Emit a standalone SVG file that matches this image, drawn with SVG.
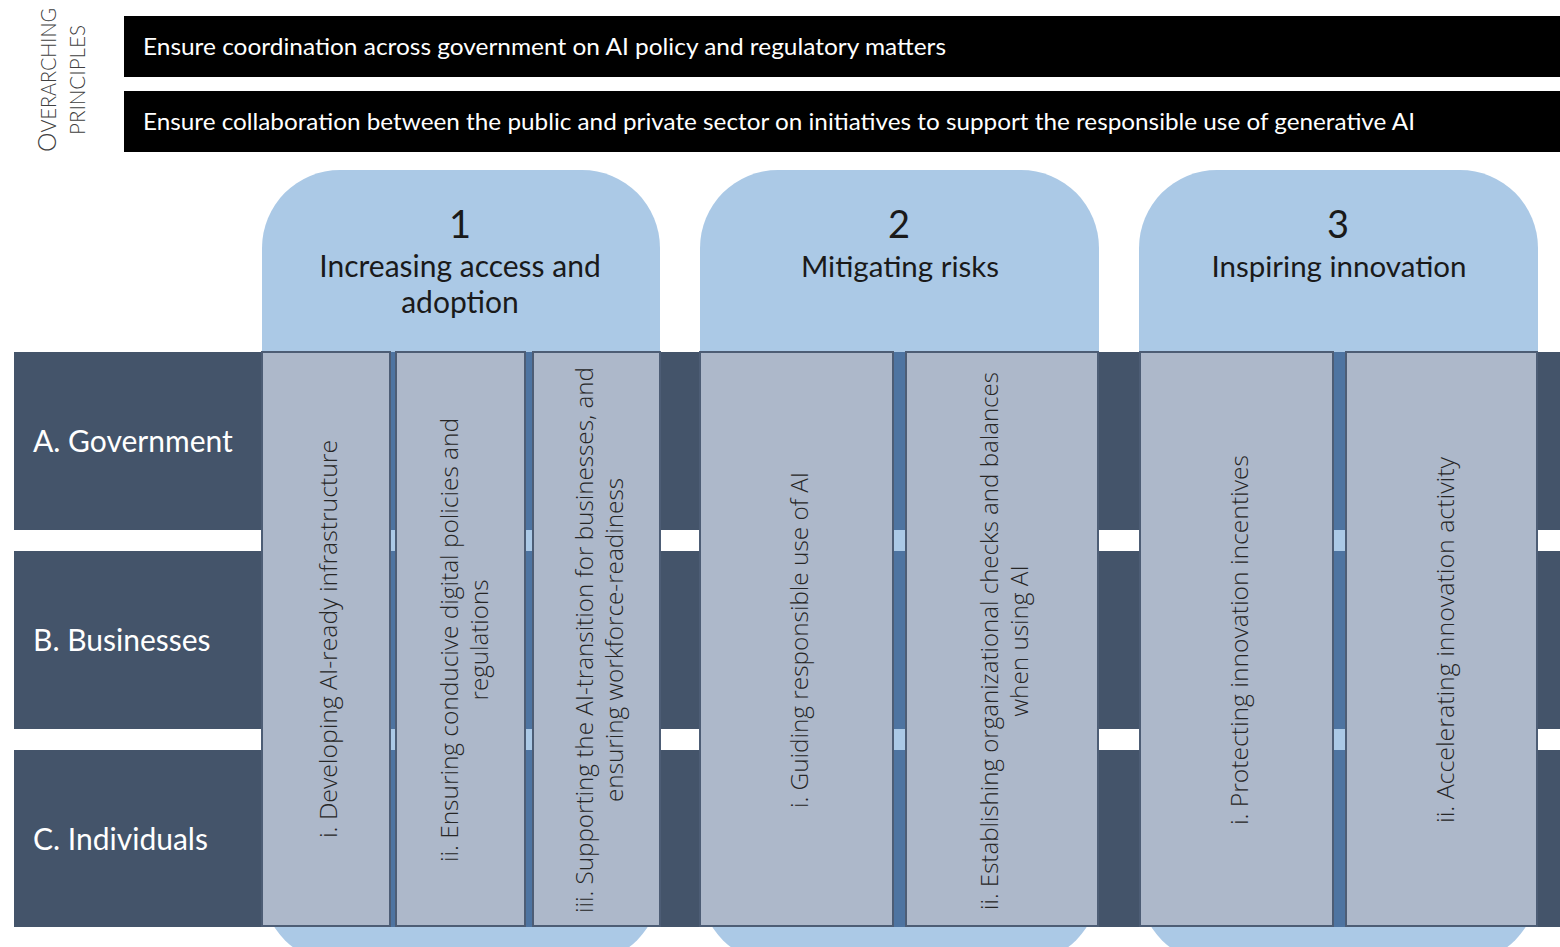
<svg xmlns="http://www.w3.org/2000/svg" width="1560" height="947" viewBox="0 0 1560 947">
<style>
.bar{fill:#000}
.bartxt{font-family:Lato,"Liberation Sans",sans-serif;font-size:23px;fill:#fff}
.side{font-family:Lato,"Liberation Sans",sans-serif;font-weight:300;fill:#404040;font-size:21px}
.pillar{fill:#abc9e6}
.band{fill:#44546a}
.mid{fill:#4e74a1}
.card{fill:#adb8ca;stroke:#4d5d75;stroke-width:2}
.head{font-family:Lato,"Liberation Sans",sans-serif;fill:#1a1a1a;text-anchor:middle}
.row{font-family:Lato,"Liberation Sans",sans-serif;font-size:30px;fill:#fff}
.ctxt{font-family:"Open Sans","Liberation Sans",sans-serif;font-weight:300;font-size:24px;fill:#262626;text-anchor:middle;dominant-baseline:central}
</style>
<rect width="1560" height="947" fill="#fff"/>
<g id="principles-label">
<text class="side" transform="translate(56,80) rotate(-90)" text-anchor="middle" textLength="144" lengthAdjust="spacingAndGlyphs"><tspan font-size="26">O</tspan>VERARCHING</text>
<text class="side" transform="translate(85,80) rotate(-90)" text-anchor="middle" textLength="110" lengthAdjust="spacingAndGlyphs">PRINCIPLES</text>
</g>
<g id="principle-1">
<rect class="bar" x="124" y="16" width="1436" height="61"/>
<text class="bartxt" x="143" y="55" textLength="803" lengthAdjust="spacingAndGlyphs">Ensure coordination across government on AI policy and regulatory matters</text>
</g>
<g id="principle-2">
<rect class="bar" x="124" y="91" width="1436" height="61"/>
<text class="bartxt" x="143" y="130" textLength="1272" lengthAdjust="spacingAndGlyphs">Ensure collaboration between the public and private sector on initiatives to support the responsible use of generative AI</text>
</g>
<g id="pillars-bg">
<rect class="pillar" x="262" y="170" width="398" height="793" rx="78"/>
<rect class="pillar" x="700" y="170" width="399" height="793" rx="78"/>
<rect class="pillar" x="1139" y="170" width="399" height="793" rx="78"/>
</g>
<g id="rows">
<g id="row-a"><rect class="band" x="14" y="352" width="1546" height="178"/><text class="row" x="33" y="452">A. Government</text></g>
<g id="row-b"><rect class="band" x="14" y="551" width="1546" height="178"/><text class="row" x="33" y="651">B. Businesses</text></g>
<g id="row-c"><rect class="band" x="14" y="750" width="1546" height="177"/><text class="row" x="33" y="850">C. Individuals</text></g>
<g id="pillar-strips">
<rect class="mid" x="262" y="352" width="398" height="178"/><rect class="mid" x="262" y="551" width="398" height="178"/><rect class="mid" x="262" y="750" width="398" height="177"/>
<rect class="mid" x="700" y="352" width="399" height="178"/><rect class="mid" x="700" y="551" width="399" height="178"/><rect class="mid" x="700" y="750" width="399" height="177"/>
<rect class="mid" x="1139" y="352" width="399" height="178"/><rect class="mid" x="1139" y="551" width="399" height="178"/><rect class="mid" x="1139" y="750" width="399" height="177"/>
</g>
</g>
<g id="pillar-1">
<text class="head" x="460" y="238" font-size="38">1</text>
<text class="head" x="460" y="277" font-size="30">Increasing access and</text>
<text class="head" x="460" y="313" font-size="30">adoption</text>
</g>
<g id="pillar-2">
<text class="head" x="899" y="238" font-size="38">2</text>
<text class="head" x="900" y="277" font-size="29.5">Mitigating risks</text>
</g>
<g id="pillar-3">
<text class="head" x="1338" y="238" font-size="38">3</text>
<text class="head" x="1339" y="277" font-size="29.5">Inspiring innovation</text>
</g>
<g id="card-1-i">
<rect class="card" x="262" y="352" width="128" height="574"/>
<text class="ctxt" transform="translate(327,639) rotate(-90)" textLength="398" lengthAdjust="spacingAndGlyphs">i. Developing AI-ready infrastructure</text>
</g>
<g id="card-1-ii">
<rect class="card" x="396" y="352" width="129" height="574"/>
<text class="ctxt" transform="translate(463,640) rotate(-90)"><tspan x="0" dy="-15" textLength="444" lengthAdjust="spacingAndGlyphs">ii. Ensuring conducive digital policies and</tspan><tspan x="0" dy="30" textLength="121" lengthAdjust="spacingAndGlyphs">regulations</tspan></text>
</g>
<g id="card-1-iii">
<rect class="card" x="533" y="352" width="127" height="574"/>
<text class="ctxt" transform="translate(598,640) rotate(-90)"><tspan x="0" dy="-15" textLength="546" lengthAdjust="spacingAndGlyphs">iii. Supporting the AI-transition for businesses, and</tspan><tspan x="0" dy="30" textLength="324" lengthAdjust="spacingAndGlyphs">ensuring workforce-readiness</tspan></text>
</g>
<g id="card-2-i">
<rect class="card" x="700" y="352" width="193" height="574"/>
<text class="ctxt" transform="translate(798,640) rotate(-90)" textLength="336" lengthAdjust="spacingAndGlyphs">i. Guiding responsible use of AI</text>
</g>
<g id="card-2-ii">
<rect class="card" x="906" y="352" width="192" height="574"/>
<text class="ctxt" transform="translate(1003,641) rotate(-90)"><tspan x="0" dy="-15" textLength="538" lengthAdjust="spacingAndGlyphs">ii. Establishing organizational checks and balances</tspan><tspan x="0" dy="30" textLength="151" lengthAdjust="spacingAndGlyphs">when using AI</tspan></text>
</g>
<g id="card-3-i">
<rect class="card" x="1140" y="352" width="193" height="574"/>
<text class="ctxt" transform="translate(1238,640) rotate(-90)" textLength="370" lengthAdjust="spacingAndGlyphs">i. Protecting innovation incentives</text>
</g>
<g id="card-3-ii">
<rect class="card" x="1346" y="352" width="191" height="574"/>
<text class="ctxt" transform="translate(1444,640) rotate(-90)" textLength="366" lengthAdjust="spacingAndGlyphs">ii. Accelerating innovation activity</text>
</g>
<g id="connectors"/>
</svg>
